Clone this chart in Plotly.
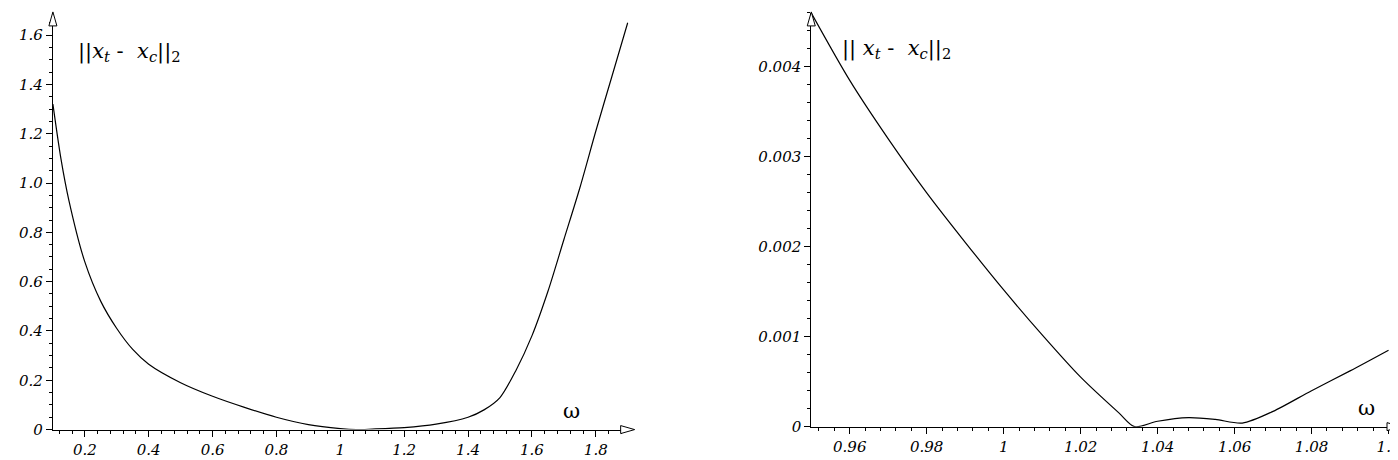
import plotly.graph_objects as go

# left panel: wide omega sweep
w_left = [0.1, 0.125, 0.15, 0.2, 0.25, 0.3, 0.35, 0.4, 0.5, 0.6, 0.7, 0.8, 0.9, 1.0, 1.05, 1.1,
          1.2, 1.3, 1.4, 1.45, 1.5, 1.55, 1.6, 1.65, 1.7, 1.75, 1.8, 1.85, 1.9]
err_left = [1.32, 1.1, 0.93, 0.68, 0.52, 0.41, 0.325, 0.265, 0.19, 0.135, 0.09, 0.05, 0.02, 0.004,
            0.0, 0.002, 0.008, 0.022, 0.05, 0.08, 0.13, 0.24, 0.38, 0.56, 0.77, 0.98, 1.21, 1.43, 1.65]

# right panel: zoom near omega = 1
w_right = [0.95, 0.96, 0.97, 0.98, 0.99, 1.0, 1.01, 1.02, 1.03, 1.034, 1.04, 1.048,
           1.055, 1.062, 1.07, 1.08, 1.09, 1.1]
err_right = [0.0046, 0.00385, 0.0032, 0.0026, 0.00205, 0.00152, 0.00102, 0.00055, 0.00015,
             0.0, 0.00006, 0.0001, 0.00008, 0.00004, 0.00017, 0.0004, 0.00062, 0.00085]

FONT = "DejaVu Serif"
W, H = 1398, 460

fig = go.Figure()
fig.add_trace(go.Scatter(x=w_left, y=err_left, mode="lines", line=dict(color="black", width=1.2, shape="spline", smoothing=0.8),
                         xaxis="x", yaxis="y"))
fig.add_trace(go.Scatter(x=w_right, y=err_right, mode="lines", line=dict(color="black", width=1.2, shape="spline", smoothing=0.8),
                         xaxis="x2", yaxis="y2"))

tick = dict(showline=True, linecolor="black", linewidth=1, ticks="outside", ticklen=6, tickcolor="black",
            showgrid=False, zeroline=False, tickfont=dict(family=FONT, size=15, color="black", style="italic"))

fig.update_layout(
    width=W, height=H, margin=dict(l=0, r=0, t=0, b=0), showlegend=False,
    plot_bgcolor="white", paper_bgcolor="white",
    xaxis=dict(domain=[45 / W, 622 / W], range=[0.1, 1.903], anchor="y", tickvals=[0.2, 0.4, 0.6, 0.8, 1, 1.2, 1.4, 1.6, 1.8],
               ticktext=["0.2", "0.4", "0.6", "0.8", "1", "1.2", "1.4", "1.6", "1.8"],
               minor=dict(dtick=0.04, ticks="outside", ticklen=3, tickcolor="black"), **tick),
    yaxis=dict(domain=[30 / H, 455 / H], range=[0, 1.69], anchor="x", tickvals=[0, 0.2, 0.4, 0.6, 0.8, 1.0, 1.2, 1.4, 1.6],
               ticktext=["0", "0.2", "0.4", "0.6", "0.8", "1.0", "1.2", "1.4", "1.6"],
               minor=dict(dtick=0.05, ticks="outside", ticklen=3, tickcolor="black"), **tick),
    xaxis2=dict(domain=[805 / W, 1392 / W], range=[0.95, 1.1022], anchor="y2",
                tickvals=[0.96, 0.98, 1, 1.02, 1.04, 1.06, 1.08, 1.1],
                ticktext=["0.96", "0.98", "1", "1.02", "1.04", "1.06", "1.08", "1.1"],
                minor=dict(dtick=0.004, ticks="outside", ticklen=3, tickcolor="black"), **tick),
    yaxis2=dict(domain=[33 / H, 455 / H], range=[0, 0.0046], anchor="x2", tickvals=[0, 0.001, 0.002, 0.003, 0.004],
                ticktext=["0", "0.001", "0.002", "0.003", "0.004"],
                minor=dict(dtick=0.0002, ticks="outside", ticklen=3, tickcolor="black"), **tick),
)

# hollow arrow heads at the axis ends (paper coordinates so they are not clipped)
def arrow(px, py, horiz):
    path = "M 0 0 L -14 -4 L -14 4 Z" if horiz else "M 0 0 L -4 -14 L 4 -14 Z"
    fig.add_shape(type="path", path=path, xref="paper", yref="paper", xsizemode="pixel", ysizemode="pixel",
                  xanchor=px / W, yanchor=(H - py) / H, line=dict(color="black", width=1), fillcolor="white")

arrow(628, 430, True)
arrow(45, 4, False)
arrow(1396, 427, True)
arrow(805, 4, False)

label = "||<i>x</i><sub><i>t</i></sub> -  <i>x</i><sub><i>c</i></sub>||<sub>2</sub>"
ann = dict(showarrow=False, font=dict(family=FONT, size=21, color="black"), xanchor="left")
fig.add_annotation(x=0.172, y=1.53, xref="x", yref="y", text=label, **ann)
fig.add_annotation(x=0.9575, y=0.0042, xref="x2", yref="y2", text=label.replace("||<i>", "|| <i>", 1), **ann)
fig.add_annotation(x=1.69, y=0.075, xref="x", yref="y", text="ω", **ann)
fig.add_annotation(x=1.0915, y=0.00021, xref="x2", yref="y2", text="ω", **ann)

fig.write_html("out.html")
